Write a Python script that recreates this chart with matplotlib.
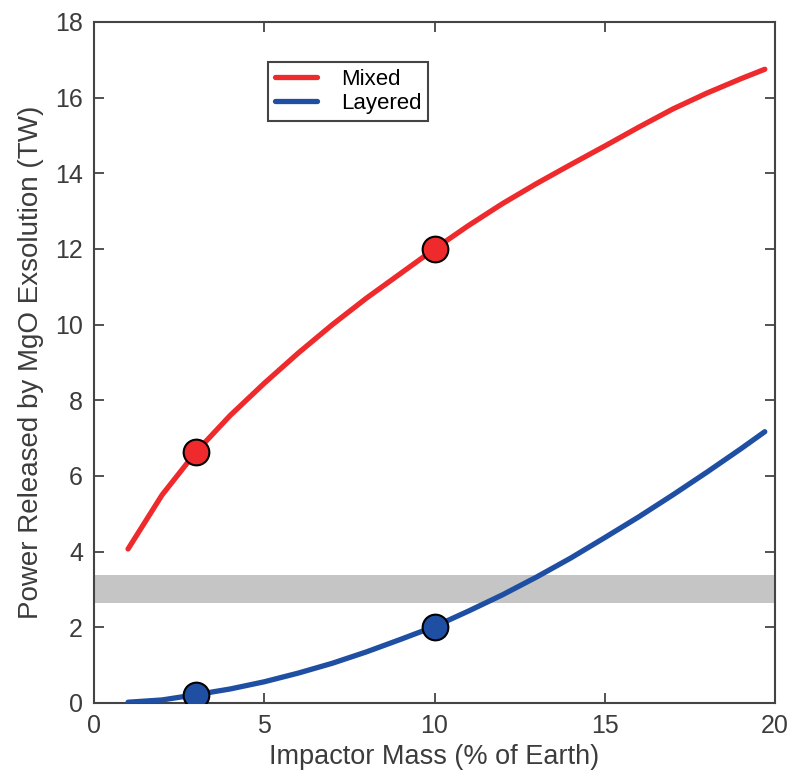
import matplotlib.pyplot as plt

plt.rcParams['font.family'] = ['Liberation Sans', 'DejaVu Sans']

# Curves
mass = [1, 2, 3, 4, 5, 6, 7, 8, 9, 10, 11, 12, 13, 14, 15, 16, 17, 18, 19, 19.7]
mixed = [4.07, 5.5, 6.64, 7.6, 8.45, 9.25, 10.0, 10.7, 11.35, 12.0,
         12.62, 13.2, 13.73, 14.23, 14.72, 15.22, 15.7, 16.12, 16.5, 16.75]
layered = [0.02, 0.08, 0.22, 0.37, 0.56, 0.79, 1.05, 1.35, 1.68, 2.02,
           2.43, 2.86, 3.33, 3.83, 4.37, 4.92, 5.5, 6.1, 6.72, 7.17]

# highlighted cases
mark_mass = [3, 10]
mark_mixed = [6.64, 12.0]
mark_layered = [0.22, 2.02]

# observed range (gray band)
band_low, band_high = 2.65, 3.39

red = '#EE2A2C'
blue = '#1E4FA3'
txt = '#3c3c3c'

fig = plt.figure(figsize=(8, 7.79), dpi=100)
ax = fig.add_axes([0.1175, 0.0976, 0.85125, 0.8742])

ax.axhspan(band_low, band_high, color='#C4C5C4', lw=0, zorder=1)
ax.plot(mass, mixed, color=red, lw=3.8, solid_capstyle='round', label='Mixed', zorder=3)
ax.plot(mass, layered, color=blue, lw=3.8, solid_capstyle='round', label='Layered', zorder=3)
ax.plot(mark_mass, mark_mixed, 'o', ms=18.5, mfc=red, mec='black', mew=1.5, zorder=4)
ax.plot(mark_mass, mark_layered, 'o', ms=18.5, mfc=blue, mec='black', mew=1.5, zorder=4)

ax.set_xlim(0, 20)
ax.set_ylim(0, 18)
ax.set_xticks([0, 5, 10, 15, 20])
ax.set_yticks(range(0, 19, 2))
ax.tick_params(direction='in', length=7, width=1.3, top=True, right=True,
               labelsize=18, colors='#444444', labelcolor=txt, pad=8)
for s in ax.spines.values():
    s.set_color('#444444')
    s.set_linewidth(1.5)

ax.set_xlabel('Impactor Mass (% of Earth)', fontsize=19.5, color=txt, labelpad=4)
ax.set_ylabel('Power Released by MgO Exsolution (TW)', fontsize=20, color=txt, labelpad=8)

leg = ax.legend(loc='upper left', bbox_to_anchor=(0.2555, 0.941), fontsize=16,
                fancybox=False, framealpha=1, edgecolor='#444444',
                handlelength=1.9, handletextpad=1.1, borderpad=0.3,
                labelspacing=0.15, borderaxespad=0)
leg.get_frame().set_linewidth(1.5)

fig.savefig('out.png', dpi=100)
